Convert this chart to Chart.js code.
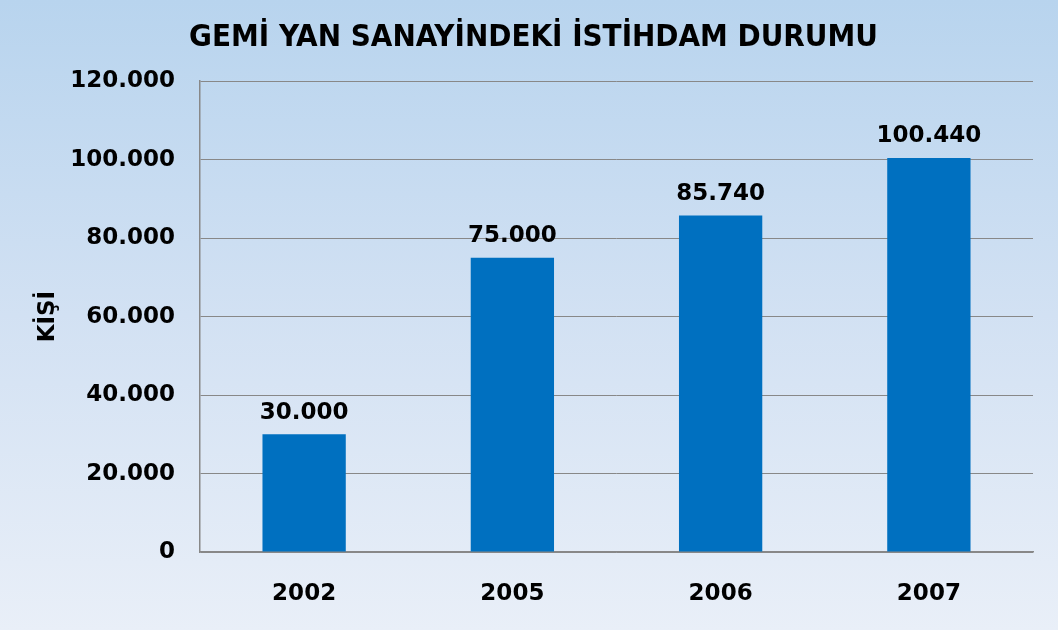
<!DOCTYPE html>
<html>
<head>
<meta charset="utf-8">
<script src="https://cdn.jsdelivr.net/npm/chart.js@4"></script>
<style>
  html, body { margin: 0; padding: 0; }
  body {
    width: 1058px; height: 630px; overflow: hidden;
    background: linear-gradient(to bottom, #b8d4ee 0%, #d2e1f3 50%, #e9eff8 100%);
  }
  #wrap { position: relative; width: 1058px; height: 630px; }
</style>
</head>
<body>
<div id="wrap"><canvas id="chart"></canvas></div>
<script>
const years = ['2002', '2005', '2006', '2007'];
const employees = [30000, 75000, 85740, 100440];
const titleText = 'GEMİ YAN SANAYİNDEKİ İSTİHDAM DURUMU';
const axisTitle = 'KİŞİ';

const fmt = v => String(v).replace(/\B(?=(\d{3})+(?!\d))/g, '.');
const labelFont = '"DejaVu Sans", Verdana, sans-serif';

const valueLabels = {
    id: 'valueLabels',
    afterDatasetsDraw(chart) {
        const ctx = chart.ctx;
        const meta = chart.getDatasetMeta(0);
        ctx.save();
        ctx.font = 'bold 23px ' + labelFont;
        ctx.fillStyle = '#000';
        ctx.textAlign = 'center';
        ctx.textBaseline = 'bottom';
        meta.data.forEach((bar, i) => {
            ctx.fillText(fmt(employees[i]), bar.x, bar.y - 10);
        });
        ctx.restore();
    }
};

new Chart(document.getElementById('chart'), {
    type: 'bar',
    data: {
        labels: years,
        datasets: [{
            data: employees,
            backgroundColor: '#0070c0',
            categoryPercentage: 1,
            barPercentage: 0.4
        }]
    },
    options: {
        responsive: true,
        maintainAspectRatio: false,
        animation: false,
        layout: { padding: { top: 19, right: 25, bottom: 0, left: 34 } },
        plugins: {
            legend: { display: false },
            tooltip: { enabled: false },
            title: {
                display: true,
                text: titleText,
                color: '#000',
                font: { family: '"Liberation Sans Narrow", "DejaVu Sans Condensed", sans-serif', size: 31, weight: 'bold' },
                padding: { top: 0, bottom: 25 }
            }
        },
        scales: {
            x: {
                afterFit: axis => { axis.height = 78; },
                grid: { display: false, drawTicks: false },
                border: { color: '#888', width: 1.5 },
                ticks: {
                    color: '#000',
                    padding: 28,
                    font: { family: labelFont, size: 23, weight: 'bold' }
                }
            },
            y: {
                min: 0,
                max: 120000,
                afterFit: axis => { axis.width = 166; },
                grid: { color: '#888', lineWidth: 1, drawTicks: false },
                border: { color: '#888', width: 1.5 },
                ticks: {
                    stepSize: 20000,
                    color: '#000',
                    padding: 25,
                    font: { family: labelFont, size: 23, weight: 'bold' },
                    callback: v => fmt(v)
                },
                title: {
                    display: true,
                    text: axisTitle,
                    color: '#000',
                    padding: { top: 0, bottom: 16 },
                    font: { family: labelFont, size: 23, weight: 'bold' }
                }
            }
        }
    },
    plugins: [valueLabels]
});
</script>
</body>
</html>
